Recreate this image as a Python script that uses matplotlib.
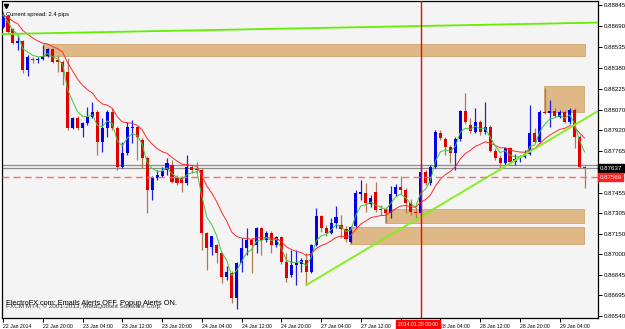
import matplotlib
matplotlib.use("Agg")
import matplotlib.pyplot as plt
import matplotlib.transforms as mtransforms
from matplotlib.patches import Rectangle
import numpy as np
import pandas as pd

plt.rcParams['font.family'] = ['Liberation Sans', 'DejaVu Sans']

# H1 candles, 22 Jan 12:00 -> 29 Jan 09:00
opens = [0.88682, 0.88763, 0.88667, 0.88563, 0.88578, 0.88363, 0.88445, 0.88437, 0.88445, 0.88467,
         0.88519, 0.88437, 0.88423, 0.88349, 0.87934, 0.88008, 0.87934, 0.87971, 0.88015, 0.88052,
         0.87830, 0.87934, 0.88052, 0.87934, 0.87645, 0.87748, 0.87934, 0.87941, 0.87845, 0.87711,
         0.87474, 0.87563, 0.87578, 0.87622, 0.87659, 0.87563, 0.87563, 0.87526, 0.87645, 0.87630,
         0.87622, 0.87155, 0.87052, 0.87067, 0.87007, 0.86829, 0.86859, 0.86674, 0.86933, 0.87044,
         0.87104, 0.87067, 0.87193, 0.87104, 0.87155, 0.87067, 0.87126, 0.86941, 0.86844, 0.86918,
         0.86926, 0.86955, 0.86867, 0.87067, 0.87281, 0.87193, 0.87155, 0.87230, 0.87215, 0.87185,
         0.87089, 0.87207, 0.87444, 0.87452, 0.87370, 0.87459, 0.87333, 0.87333, 0.87304, 0.87444,
         0.87496, 0.87474, 0.87378, 0.87311, 0.87304, 0.87607, 0.87526, 0.87645, 0.87896, 0.87852,
         0.87793, 0.87748, 0.87852, 0.88060, 0.87956, 0.87904, 0.87978, 0.87904, 0.87941, 0.87763,
         0.87711, 0.87674, 0.87785, 0.87682, 0.87704, 0.87719, 0.87741, 0.87896, 0.87830, 0.88052,
         0.88045, 0.88060, 0.88015, 0.88052, 0.87978, 0.88067, 0.87867, 0.87645]
highs = [0.88793, 0.88778, 0.88674, 0.88623, 0.88586, 0.88474, 0.88460, 0.88460, 0.88549, 0.88526,
         0.88526, 0.88474, 0.88437, 0.88452, 0.88015, 0.88022, 0.87978, 0.88089, 0.88126, 0.88067,
         0.88008, 0.88067, 0.88082, 0.87948, 0.87830, 0.87978, 0.87993, 0.87948, 0.87859, 0.87726,
         0.87578, 0.87622, 0.87645, 0.87711, 0.87696, 0.87585, 0.87578, 0.87733, 0.87659, 0.87682,
         0.87637, 0.87163, 0.87133, 0.87074, 0.87015, 0.86911, 0.86874, 0.86941, 0.87118, 0.87193,
         0.87118, 0.87200, 0.87200, 0.87170, 0.87170, 0.87133, 0.87133, 0.87007, 0.87030, 0.87030,
         0.86970, 0.87007, 0.87074, 0.87341, 0.87289, 0.87215, 0.87267, 0.87356, 0.87289, 0.87207,
         0.87207, 0.87474, 0.87548, 0.87526, 0.87437, 0.87533, 0.87363, 0.87348, 0.87504, 0.87519,
         0.87578, 0.87489, 0.87407, 0.87348, 0.87674, 0.87622, 0.87659, 0.87919, 0.87919, 0.87867,
         0.87808, 0.87867, 0.88067, 0.88193, 0.88008, 0.88082, 0.87993, 0.88126, 0.87956, 0.87785,
         0.87733, 0.87793, 0.87793, 0.87741, 0.87733, 0.87771, 0.88104, 0.87934, 0.88067, 0.88230,
         0.88141, 0.88082, 0.88067, 0.88067, 0.88082, 0.88082, 0.87882, 0.87652]
lows = [0.88674, 0.88637, 0.88556, 0.88511, 0.88341, 0.88319, 0.88415, 0.88415, 0.88437, 0.88460,
        0.88415, 0.88349, 0.88252, 0.87919, 0.87926, 0.87919, 0.87867, 0.87956, 0.88008, 0.87733,
        0.87756, 0.87867, 0.87919, 0.87622, 0.87637, 0.87733, 0.87822, 0.87696, 0.87637, 0.87304,
        0.87400, 0.87548, 0.87570, 0.87585, 0.87526, 0.87511, 0.87459, 0.87511, 0.87600, 0.87600,
        0.87030, 0.86881, 0.86992, 0.86933, 0.86785, 0.86807, 0.86637, 0.86592, 0.86867, 0.86992,
        0.86859, 0.87007, 0.86992, 0.87089, 0.87007, 0.87052, 0.86926, 0.86792, 0.86829, 0.86770,
        0.86867, 0.86770, 0.86859, 0.87059, 0.87163, 0.87133, 0.87148, 0.87193, 0.87118, 0.87089,
        0.87081, 0.87200, 0.87400, 0.87311, 0.87348, 0.87311, 0.87289, 0.87230, 0.87267, 0.87430,
        0.87444, 0.87304, 0.87289, 0.87252, 0.87289, 0.87511, 0.87511, 0.87637, 0.87845, 0.87733,
        0.87674, 0.87622, 0.87837, 0.87963, 0.87896, 0.87896, 0.87882, 0.87889, 0.87756, 0.87696,
        0.87622, 0.87659, 0.87667, 0.87659, 0.87682, 0.87711, 0.87733, 0.87822, 0.87822, 0.88037,
        0.87941, 0.88015, 0.88008, 0.87971, 0.87963, 0.87785, 0.87637, 0.87489]
closes = [0.88771, 0.88645, 0.88563, 0.88578, 0.88363, 0.88460, 0.88437, 0.88445, 0.88467, 0.88519,
          0.88423, 0.88423, 0.88349, 0.87934, 0.88008, 0.87934, 0.87971, 0.88015, 0.88052, 0.87830,
          0.87934, 0.88052, 0.87934, 0.87645, 0.87748, 0.87941, 0.87941, 0.87867, 0.87711, 0.87474,
          0.87570, 0.87585, 0.87615, 0.87674, 0.87533, 0.87526, 0.87526, 0.87645, 0.87622, 0.87622,
          0.87155, 0.87044, 0.87133, 0.87007, 0.86829, 0.86867, 0.86674, 0.86933, 0.87044, 0.87104,
          0.87067, 0.87193, 0.87104, 0.87155, 0.87067, 0.87126, 0.86941, 0.86822, 0.86918, 0.86933,
          0.86955, 0.86867, 0.87067, 0.87281, 0.87193, 0.87155, 0.87230, 0.87274, 0.87185, 0.87111,
          0.87200, 0.87452, 0.87459, 0.87378, 0.87415, 0.87326, 0.87326, 0.87304, 0.87444, 0.87496,
          0.87474, 0.87378, 0.87311, 0.87304, 0.87607, 0.87526, 0.87645, 0.87904, 0.87859, 0.87793,
          0.87748, 0.87852, 0.88060, 0.87978, 0.87911, 0.87978, 0.87904, 0.87941, 0.87763, 0.87711,
          0.87674, 0.87785, 0.87682, 0.87704, 0.87719, 0.87741, 0.87896, 0.87830, 0.88052, 0.88045,
          0.88060, 0.88022, 0.88052, 0.87978, 0.88067, 0.87867, 0.87645, 0.87637]

time_ticks = [0, 8, 16, 24, 32, 40, 48, 56, 64, 72, 80, 88, 96, 104, 112]
# the 27 Jan 20:00 label sits under the red period-separator label
time_labels = ["22 Jan 2014", "22 Jan 20:00", "23 Jan 04:00", "23 Jan 12:00", "23 Jan 20:00",
               "24 Jan 04:00", "24 Jan 12:00", "24 Jan 20:00", "27 Jan 04:00", "27 Jan 12:00",
               "", "28 Jan 04:00", "28 Jan 12:00", "28 Jan 20:00", "29 Jan 04:00"]
price_ticks = [0.88845, 0.88690, 0.88535, 0.88380, 0.88225, 0.88070, 0.87920, 0.87765,
               0.87610, 0.87455, 0.87305, 0.87150, 0.87000, 0.86845, 0.86695, 0.86540]

bid = 0.87637
ask = 0.87661
alert_level = 0.87569
vline_bar = 84
vline_label = "2014.01.28 00:00"

# drawn objects: (bar from, bar to, price low, price high)
zones = [(8.1, 117.1, 0.88467, 0.88556),
         (108.9, 116.9, 0.88052, 0.88245),
         (76.9, 116.9, 0.87230, 0.87333),
         (69.8, 116.9, 0.87074, 0.87200)]
trend_top = ([-0.2, 119.7], [0.88630, 0.88715])
trend_up = ([61, 119.7], [0.86770, 0.88060])

o = np.array(opens); h = np.array(highs); l = np.array(lows); c = np.array(closes)
n = len(c)
idx = np.arange(n)
up = c >= o

fig = plt.figure(figsize=(6.25, 3.29), dpi=100)
fig.patch.set_facecolor('white')
ax = fig.add_axes([2/625, 11/329, 596/625, 317/329])
ax.set_facecolor('#f4f4f4')

for x0, x1, p0, p1 in zones:
    ax.add_patch(Rectangle((x0, p0), x1 - x0, p1 - p0, facecolor='#deb887',
                           edgecolor='#d0a46c', lw=0.6, zorder=1))

ax.axhline(ask, color='#8c8c8c', lw=0.9, zorder=2)
ax.axhline(bid, color='#8c8c8c', lw=0.9, zorder=2)

ax.vlines(idx[up], l[up], h[up], color='#2020e0', lw=0.9, zorder=3)
ax.vlines(idx[~up], l[~up], h[~up], color='#b07a50', lw=0.9, zorder=3)
body_h = np.maximum(np.abs(c - o), 0.00005)
ax.bar(idx[up], body_h[up], bottom=np.minimum(o, c)[up], width=0.62,
       color='#0000f0', lw=0, zorder=4)
ax.bar(idx[~up], body_h[~up], bottom=np.minimum(o, c)[~up], width=0.62,
       color='#e00000', lw=0, zorder=4)

ema_slow = pd.Series(c).ewm(span=13, adjust=False).mean()
ema_fast = pd.Series(c).ewm(span=4, adjust=False).mean()
ax.plot(idx, ema_slow, color='#ff2a2a', lw=0.7, zorder=5)
ax.plot(idx, ema_fast, color='#3cc83c', lw=0.7, zorder=5)

ax.plot(*trend_top, color='#66ee00', lw=1.3, zorder=6)
ax.plot(*trend_up, color='#88ee22', lw=1.4, zorder=6)

ax.axhline(alert_level, color='#ff6a6a', lw=1.0, ls=(0, (5, 3)), zorder=6)
ax.axvline(vline_bar, color='#ff0000', lw=1.0, zorder=7)

ax.set_xlim(-0.2, 119.7)
ax.set_ylim(0.86526, 0.88875)

ax.set_xticks(time_ticks)
ax.set_xticklabels(time_labels, fontsize=3.7)
shift = mtransforms.ScaledTranslation(2/100, 0, fig.dpi_scale_trans)
for lbl in ax.get_xticklabels():
    lbl.set_ha('left')
    lbl.set_transform(lbl.get_transform() + shift)
ax.tick_params(axis='x', direction='out', length=3, width=0.7, pad=1.5)

ax.yaxis.tick_right()
ax.set_yticks(price_ticks)
ax.set_yticklabels([f"{p:.5f}" for p in price_ticks], fontsize=4.4)
ax.tick_params(axis='y', direction='out', length=3, width=0.7, pad=1.5)

for sp in ax.spines.values():
    sp.set_color('black')
    sp.set_linewidth(0.9)

ytr = ax.get_yaxis_transform()
ax.text(1.003, bid, f"{bid:.5f}", transform=ytr, fontsize=4.4, color='white',
        ha='left', va='center', zorder=10,
        bbox=dict(boxstyle='square,pad=0.25', fc='black', ec='black'))
ax.text(1.003, alert_level, f"{alert_level:.5f}", transform=ytr, fontsize=4.4,
        color='white', ha='left', va='center', zorder=10,
        bbox=dict(boxstyle='square,pad=0.25', fc='#ff2020', ec='#ff2020'))

xtr = ax.get_xaxis_transform()
ax.text(vline_bar - 0.5, -0.021, vline_label, transform=xtr, fontsize=3.7, color='white',
        ha='center', va='center', zorder=10,
        bbox=dict(boxstyle='square,pad=0.35', fc='#ff0000', ec='#ff0000'))

ax.plot([0.007], [0.985], marker='v', color='black', ms=3, transform=ax.transAxes,
        clip_on=False, zorder=10)
ax.text(0.006, 0.958, "Current spread: 2.4 pips", transform=ax.transAxes,
        fontsize=4.2, color='black', ha='left', va='center', zorder=10)
ax.text(0.006, 0.036, "FXCM MT4, \u00a9 2001-2013, MetaQuotes Software Corp.",
        transform=ax.transAxes, fontsize=4.6, color='#404040', ha='left',
        va='center', zorder=9)
ax.text(0.006, 0.045, "ElectroFX.com: Emails Alerts OFF, Popup Alerts ON.",
        transform=ax.transAxes, fontsize=5.3, color='black', ha='left',
        va='center', zorder=10)

fig.savefig("out.png", dpi=100)
